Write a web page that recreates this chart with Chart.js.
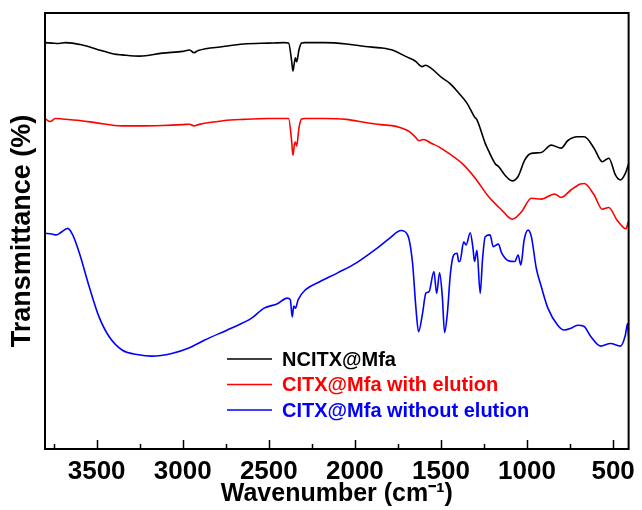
<!DOCTYPE html>
<html>
<head>
<meta charset="utf-8">
<title>FTIR spectra</title>
<script src="https://cdn.jsdelivr.net/npm/chart.js@4.4.1/dist/chart.umd.min.js"></script>
<style>
  html, body { margin: 0; padding: 0; background: #fff; }
  canvas { display: block; }
</style>
</head>
<body>
<canvas id="ftir" width="642" height="510"></canvas>
<script>
// wavenumber (cm-1) / transmittance pairs for each sample
const ncitxWn = [3800,3760,3720,3680,3589,3500,3400,3353,3250,3118,3000,2960,2935,2910,2764,2646,2500,2410,2385,2368,2360,2352,2345,2338,2325,2310,2291,2175,2050,1939,1850,1775,1703,1650,1610,1590,1560,1493,1450,1398,1350,1304,1291,1243,1234,1186,1163,1128,1086,1052,1013,975,917,860,802,764,707,668,611,563,525,486,458,429,410];
const ncitxT = [93.2,93.1,93.0,93.2,92.7,91.7,90.6,90.4,90.1,90.8,91.2,91.5,90.9,91.4,92.3,92.9,93.1,93.2,93.1,89.2,86.7,88.5,89.7,88.8,91.5,93.1,93.2,93.2,92.9,92.3,92.0,91.4,90.0,89.0,87.7,88.0,87.4,85.1,83.9,81.7,79.4,76.1,75.5,70.1,69.3,65.5,64.7,62.8,61.5,62.5,66.3,67.8,68.0,69.7,69.0,70.7,71.6,71.6,69.0,65.9,66.7,62.8,61.7,63.2,65.4];

const elutedWn = [3800,3770,3740,3700,3589,3500,3353,3250,3118,3000,2960,2935,2910,2764,2646,2500,2410,2385,2368,2360,2352,2345,2338,2325,2310,2291,2175,2050,1939,1850,1761,1703,1684,1650,1627,1600,1560,1512,1454,1377,1301,1224,1147,1086,1032,975,917,841,802,745,690,668,611,563,525,478,440,425,414,410];
const elutedT = [75.8,75.1,75.8,75.7,75.3,74.8,74.1,74.1,74.2,74.4,74.5,74.1,74.4,75.3,75.6,75.8,75.8,75.8,70.9,67.4,69.7,70.4,69.5,73.6,75.7,75.8,75.8,75.6,74.9,74.4,74.0,73.2,72.8,71.6,70.7,71.0,70.2,69.3,67.8,65.5,62.1,57.9,54.8,52.7,54.4,57.5,57.3,58.5,57.7,59.4,60.8,60.9,58.3,55.0,55.4,52.5,50.8,50.5,51.8,52.1];

const rawWn = [3800,3760,3734,3710,3668,3639,3600,3543,3486,3428,3352,3256,3179,3064,2968,2872,2719,2600,2527,2450,2393,2375,2364,2355,2345,2330,2288,2202,2100,1991,1876,1799,1732,1694,1665,1646,1630,1607,1588,1569,1541,1525,1508,1492,1479,1463,1445,1426,1406,1397,1390,1368,1354,1330,1314,1305,1291,1272,1259,1243,1215,1196,1167,1147,1109,1071,1052,1036,1017,994,975,946,917,879,822,784,745,707,668,630,573,515,458,429,416,410];
const rawT = [49.5,49.3,49.1,49.6,50.6,49.1,44.9,37.2,30.3,25.8,22.7,21.6,21.3,21.9,23.1,25.0,27.7,30.0,32.3,33.3,34.6,34.2,30.3,32.8,32.3,34.2,36.5,38.4,40.4,42.7,45.9,48.3,50.1,49.1,42.6,32.6,26.9,31.1,35.7,36.1,40.7,35.7,40.4,34.9,26.7,31.1,40.3,44.5,44.9,43.0,43.0,47.5,46.8,49.6,46.0,43.0,45.6,35.7,43.3,48.7,49.1,46.4,47.0,44.9,43.2,43.0,44.5,42.2,47.9,50.2,48.7,41.4,37.2,32.3,28.4,27.3,27.7,28.4,28.1,25.8,23.6,24.2,23.6,26.1,28.8,26.0];

const seriesNames = ['NCITX@Mfa', 'CITX@Mfa with elution', 'CITX@Mfa without elution'];
const seriesColors = ['#000000', '#ff0000', '#0000ff'];
const xTicks = [3500, 3000, 2500, 2000, 1500, 1000, 500];

const FONT = '"Liberation Sans", Arial, sans-serif';

function pairs(wn, t) {
  return wn.map((w, i) => ({ x: w, y: t[i] }));
}

// box around the plot, inward tick marks and the legend inside the plot
const framePlugin = {
  id: 'frame',
  afterDraw(chart) {
    const { ctx, chartArea: a, scales: { x } } = chart;
    ctx.save();
    ctx.strokeStyle = '#000';
    ctx.lineWidth = 1.5;
    ctx.beginPath();
    xTicks.forEach(v => {
      const px = Math.round(x.getPixelForValue(v)) + 0.5;
      ctx.moveTo(px, a.bottom);
      ctx.lineTo(px, a.bottom - 9);
      const mx = Math.round(x.getPixelForValue(v + 250)) + 0.5;
      ctx.moveTo(mx, a.bottom);
      ctx.lineTo(mx, a.bottom - 5);
    });
    ctx.stroke();

    ctx.lineWidth = 2;
    ctx.strokeRect(a.left, a.top, a.right - a.left, a.bottom - a.top);

    ctx.font = 'bold 20px ' + FONT;
    ctx.textBaseline = 'middle';
    ctx.textAlign = 'left';
    chart.data.datasets.forEach((ds, i) => {
      const y = 359 + i * 25.5;
      ctx.strokeStyle = ds.borderColor;
      ctx.lineWidth = 1.5;
      ctx.beginPath();
      ctx.moveTo(227, y);
      ctx.lineTo(272, y);
      ctx.stroke();
      ctx.fillStyle = ds.borderColor;
      ctx.fillText(ds.label, 282, y + 1);
    });
    ctx.restore();
  }
};

const ctx = document.getElementById('ftir').getContext('2d');
const ftirChart = new Chart(ctx, {
  type: 'line',
  data: {
    datasets: [
      { label: seriesNames[0], data: pairs(ncitxWn, ncitxT), borderColor: seriesColors[0] },
      { label: seriesNames[1], data: pairs(elutedWn, elutedT), borderColor: seriesColors[1] },
      { label: seriesNames[2], data: pairs(rawWn, rawT), borderColor: seriesColors[2] }
    ]
  },
  options: {
    responsive: false,
    animation: false,
    layout: { padding: { top: 13, right: 7, left: 0, bottom: 0 } },
    elements: {
      line: { borderWidth: 1.6, cubicInterpolationMode: 'monotone' },
      point: { radius: 0 }
    },
    plugins: {
      legend: { display: false },
      tooltip: { enabled: false }
    },
    scales: {
      x: {
        type: 'linear',
        reverse: true,
        min: 410,
        max: 3800,
        afterBuildTicks: s => { s.ticks = xTicks.map(v => ({ value: v })); },
        afterFit: s => { s.height = 61; },
        grid: { display: false, drawTicks: false },
        border: { display: false },
        ticks: {
          padding: 7,
          color: '#000',
          callback: v => String(v),
          font: { family: FONT, size: 26, weight: 'bold' }
        },
        title: {
          display: true,
          text: 'Wavenumber (cm\u207B\u00B9)',
          color: '#000',
          padding: { bottom: 1 },
          font: { family: FONT, size: 25, weight: 'bold' }
        }
      },
      y: {
        min: 0,
        max: 100,
        afterFit: s => { s.width = 45; },
        grid: { display: false, drawTicks: false },
        border: { display: false },
        ticks: { display: false },
        title: {
          display: true,
          text: 'Transmittance (%)',
          color: '#000',
          padding: { top: 6 },
          font: { family: FONT, size: 27, weight: 'bold' }
        }
      }
    }
  },
  plugins: [framePlugin]
});
</script>
</body>
</html>
